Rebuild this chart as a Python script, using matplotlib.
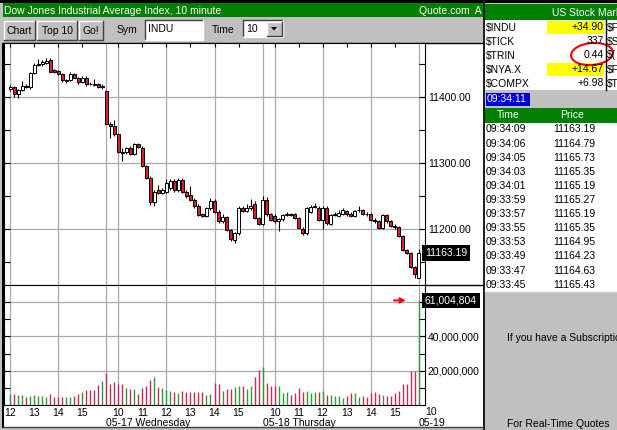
import numpy as np
import pandas as pd
import matplotlib
matplotlib.use("Agg")
import matplotlib.pyplot as plt
from matplotlib.patches import Rectangle, Ellipse, Polygon
from matplotlib.transforms import blended_transform_factory
from matplotlib.ticker import FormatStrFormatter

plt.rcParams["font.family"] = ["Liberation Sans", "DejaVu Sans"]
plt.rcParams["font.size"] = 7.5

# ── 1. DATA: DJIA 10-minute bars, 05-16 12:00 .. 05-19 09:30 ──────────────────
session_starts = [("2006-05-16 12:00", 24), ("2006-05-17 09:30", 39),
                  ("2006-05-18 09:30", 39), ("2006-05-19 09:30", 1)]
day_names = ["05-17 Wednesday", "05-18 Thursday", "05-19"]

opens = [11412, 11414, 11404, 11410, 11417, 11414, 11436, 11448, 11449, 11451,
         11455, 11440, 11439, 11435, 11424, 11426, 11434, 11428, 11423, 11429,
         11420, 11419, 11419, 11415,
         11409, 11359, 11355, 11343, 11316, 11316, 11322, 11313, 11328, 11323,
         11295, 11277, 11241, 11258, 11254, 11256, 11262, 11273, 11258, 11274,
         11256, 11251, 11244, 11234, 11222, 11220, 11231, 11242, 11226, 11211,
         11218, 11198, 11183, 11193, 11232, 11227, 11231, 11238, 11216,
         11207, 11243, 11222, 11220, 11211, 11214, 11221, 11222, 11222, 11216,
         11200, 11193, 11226, 11233, 11231, 11213, 11231, 11207, 11221, 11219,
         11223, 11227, 11223, 11219, 11228, 11228, 11223, 11222, 11213, 11211,
         11201, 11221, 11211, 11204, 11202, 11189, 11168, 11163, 11142,
         11126]
highs = [11418, 11417, 11412, 11424, 11419, 11437, 11451, 11457, 11456, 11458,
         11458, 11442, 11441, 11436, 11427, 11438, 11436, 11430, 11431, 11431,
         11423, 11427, 11421, 11419,
         11410, 11362, 11364, 11345, 11323, 11324, 11325, 11330, 11330, 11325,
         11297, 11280, 11258, 11266, 11262, 11276, 11276, 11276, 11277, 11277,
         11258, 11265, 11246, 11237, 11224, 11233, 11247, 11245, 11228, 11222,
         11220, 11200, 11195, 11234, 11234, 11238, 11245, 11242, 11218,
         11249, 11248, 11224, 11222, 11216, 11223, 11226, 11224, 11224, 11218,
         11202, 11233, 11236, 11239, 11235, 11234, 11234, 11223, 11226, 11228,
         11231, 11229, 11225, 11229, 11234, 11230, 11225, 11224, 11216, 11213,
         11223, 11223, 11213, 11207, 11204, 11191, 11170, 11165, 11144,
         11169]
lows = [11408, 11400, 11398, 11408, 11413, 11412, 11434, 11446, 11447, 11449,
        11437, 11436, 11433, 11423, 11421, 11424, 11428, 11420, 11421, 11417,
        11418, 11416, 11413, 11412,
        11358, 11337, 11341, 11314, 11303, 11313, 11311, 11311, 11322, 11293,
        11275, 11236, 11235, 11253, 11252, 11254, 11258, 11256, 11256, 11254,
        11247, 11242, 11232, 11219, 11218, 11217, 11229, 11224, 11209, 11208,
        11196, 11182, 11179, 11191, 11225, 11225, 11229, 11214, 11205,
        11205, 11220, 11211, 11209, 11196, 11212, 11219, 11219, 11214, 11199,
        11191, 11191, 11224, 11231, 11211, 11200, 11206, 11205, 11219, 11217,
        11221, 11220, 11217, 11217, 11226, 11221, 11220, 11211, 11209, 11199,
        11199, 11209, 11202, 11200, 11187, 11166, 11161, 11140, 11126,
        11125]
closes = [11415, 11404, 11410, 11416, 11414, 11436, 11448, 11450, 11452, 11454,
          11438, 11437, 11435, 11425, 11426, 11434, 11429, 11422, 11429, 11419,
          11419, 11418, 11415, 11417,
          11359, 11355, 11343, 11316, 11315, 11322, 11313, 11328, 11324, 11295,
          11277, 11241, 11256, 11254, 11258, 11270, 11273, 11258, 11274, 11256,
          11249, 11244, 11234, 11221, 11220, 11231, 11242, 11226, 11211, 11218,
          11198, 11184, 11193, 11232, 11227, 11231, 11234, 11216, 11207,
          11243, 11222, 11213, 11211, 11214, 11221, 11222, 11221, 11216, 11201,
          11193, 11231, 11233, 11234, 11213, 11231, 11208, 11221, 11222, 11224,
          11228, 11222, 11219, 11227, 11229, 11223, 11222, 11213, 11211, 11201,
          11221, 11211, 11204, 11202, 11189, 11168, 11163, 11142, 11131,
          11163.19]
# volume in millions of shares
volumes = [6.5, 6.5, 6.1, 6.1, 4.5, 5.3, 5.9, 5.5, 5.3, 4.9,
           6.5, 4.9, 4.5, 4.9, 4.9, 4.9, 5.5, 6.3, 7.5, 8.8,
           8.8, 8.8, 11.8, 14.1,
           18.6, 12.2, 13.7, 12.2, 12.2, 9.8, 9.6, 9.2, 6.3, 9.8,
           11.2, 14.7, 16.3, 10.4, 9.8, 8.8, 8.2, 7.3, 6.9, 8.4,
           7.6, 7.3, 7.3, 7.3, 7.8, 5.9, 6.5, 13.1, 12.2, 8.4,
           9.2, 9.2, 10.4, 10.8, 10.8, 9.2, 11.2, 16.3, 20.2,
           22.0, 13.1, 11.2, 11.2, 11.2, 6.9, 7.3, 5.9, 6.9, 9.8,
           7.8, 8.4, 6.9, 7.3, 7.6, 8.2, 5.9, 5.9, 5.5, 5.3,
           3.9, 5.3, 6.9, 6.9, 4.9, 5.3, 4.9, 6.9, 7.3, 6.5,
           5.9, 5.3, 5.3, 6.9, 8.2, 12.4, 12.4, 19.6, 19.6,
           61.004804]

# quote panel
market_syms = ["$INDU", "$TICK", "$TRIN", "$NYA.X", "$COMPX"]
market_vals = ["+34.90", "337", "0.44", "+14.67", "+6.98"]
market_next = ["$F", "$S", "$(", "$F", "$T"]
market_hilite = [True, False, False, True, False]
clock = "09:34:11"
tick_times = ["09:34:09", "09:34:06", "09:34:05", "09:34:03", "09:34:01", "09:33:59",
              "09:33:57", "09:33:55", "09:33:53", "09:33:49", "09:33:47", "09:33:45"]
tick_prices = ["11163.19", "11164.79", "11165.73", "11165.35", "11165.19", "11165.27",
               "11165.19", "11165.35", "11164.95", "11164.23", "11164.63", "11165.43"]

price_levels = [11200, 11300, 11400]
price_minor = [11150, 11250, 11350, 11450]
vol_levels = [20, 40, 60]
vol_minor = [10, 30, 50]

# ── 2. BAR TIMES ──────────────────────────────────────────────────────────────
bars = pd.DatetimeIndex(np.concatenate(
    [pd.date_range(s, periods=n, freq="10min").values for s, n in session_starts]))
idx = np.arange(len(bars))
on_hour = bars.minute == 0
hour_ticks = idx[on_hour]
hour_labels = [str(h) for h in bars.hour[on_hour]]
day_open = idx[(bars.hour == 9) & (bars.minute == 30)]
grid_idx = np.sort(np.concatenate([day_open, idx[on_hour & bars.hour.isin([10, 12, 14])]]))

o, h, l, c = map(np.array, (opens, highs, lows, closes))
up = c >= o
vol = np.array(volumes)

# ── 3. FIGURE / WINDOW CHROME ────────────────────────────────────────────────
W, H = 617, 430
GRAY, GREEN, GRID = "#c0c0c0", "#007f00", "#a8a8a8"
fig = plt.figure(figsize=(W / 100, H / 100), dpi=100, facecolor=GRAY)
bg = fig.add_axes([0, 0, 1, 1])
bg.set_xlim(0, W)
bg.set_ylim(H, 0)
bg.axis("off")


def px_axes(x0, y0, x1, y1):
    return fig.add_axes([x0 / W, 1 - y1 / H, (x1 - x0) / W, (y1 - y0) / H])


def rect(x, y, w, hh, **kw):
    bg.add_patch(Rectangle((x, y), w, hh, **kw))


def bevel(x, y, w, hh, raised=True):
    lt, rb = ("white", "#404040") if raised else ("#404040", "white")
    bg.plot([x, x, x + w], [y + hh, y, y], color=lt, lw=1)
    bg.plot([x, x + w, x + w], [y + hh, y + hh, y], color=rb, lw=1)


rect(0, 0, W, 3, fc="black")
rect(3, 3, 480, 14, fc=GREEN)
bg.text(4, 10.5, "Dow Jones Industrial Average Index, 10 minute", color="white", va="center")
bg.text(482, 10.5, "Quote.com  A", color="white", va="center", ha="right")

# toolbar
for x, w, lab in [(4, 31, "Chart"), (37, 40, "Top 10"), (79, 24, "Go!")]:
    rect(x, 21, w, 19, fc=GRAY)
    bevel(x, 21, w, 19)
    bg.text(x + w / 2, 31, lab, ha="center", va="center")
bg.text(117, 30, "Sym", va="center")
rect(145, 20, 58, 20, fc="white")
bevel(145, 20, 58, 20, raised=False)
bg.text(148, 28.5, "INDU", va="center")
bg.text(212, 30, "Time", va="center")
rect(243, 20, 40, 17, fc="white")
bevel(243, 20, 40, 17, raised=False)
bg.text(246, 28.5, "10", va="center")
rect(267, 21.5, 14.5, 14, fc=GRAY)
bevel(267, 21.5, 14.5, 14)
bg.add_patch(Polygon([[271, 27], [277, 27], [274, 30.5]], closed=True, fc="black"))

# chart canvas
rect(3, 43, 480, 384, fc="white")
rect(2, 43, 2, 385, fc="black")
bg.plot([3, 483], [43, 43], color="black", lw=1)
bg.plot([3, 483], [285, 285], color="black", lw=1)
bg.plot([3, 483], [427, 427], color="#404040", lw=1)

# right quote panel
rect(483, 0, 2, H, fc="#202020")
rect(485, 4, 132, 16, fc=GREEN)
bg.text(552, 12.5, "US Stock Market", color="white", va="center")
rect(485, 20, 132, 70, fc="white")
for k, (sym, val, nxt, hl) in enumerate(zip(market_syms, market_vals, market_next, market_hilite)):
    yy = 27.5 + 14 * k
    if hl:
        rect(547, yy - 6.5, 57, 13, fc="#ffff00")
    bg.text(486, yy, sym, va="center")
    bg.text(604, yy, val, va="center", ha="right")
    bg.text(607, yy, nxt, va="center")
bg.plot([605.5, 605.5], [20, 90], color="black", lw=1)
bg.add_patch(Ellipse((592, 54), 42, 22, angle=-5, fill=False, ec="red", lw=1.5))

rect(486, 93, 44, 13, fc="#0000d8")
bg.text(487, 99.5, clock, color="white", va="center")
rect(485, 108, 132, 15, fc=GREEN)
bg.text(508, 115.5, "Time", color="white", va="center", ha="center")
bg.text(572, 115.5, "Price", color="white", va="center", ha="center")
rect(485, 123, 132, 168, fc="white")
for k, (t, p) in enumerate(zip(tick_times, tick_prices)):
    yy = 129.5 + 14.1 * k
    bg.text(486, yy, t, va="center")
    bg.text(553, yy, p, va="center")
bg.plot([485, W], [291, 291], color="#f0f0f0", lw=1)
bg.text(507, 338, "If you have a Subscription", va="center")
bg.text(507, 424, "For Real-Time Quotes", va="center")

# ── 4. PRICE PANE ─────────────────────────────────────────────────────────────
xlim = (-1.6, 103.6)
ax = px_axes(4, 43, 425, 285)
ax.set_xlim(*xlim)
ax.set_ylim(11114.7, 11481.4)
for g in grid_idx:
    ax.axvline(g, color=GRID, lw=0.9, zorder=0.5)
ax.set_yticks(price_levels)
ax.set_yticks(price_minor, minor=True)
ax.yaxis.grid(True, which="major", color=GRID, lw=0.9)
ax.set_axisbelow(True)
ax.yaxis.set_major_formatter(FormatStrFormatter("%.2f"))
ax.tick_params(axis="y", which="both", left=True, right=True, labelleft=False,
               labelright=True, direction="in", length=4, pad=2, width=0.8)
ax.set_xticks(hour_ticks)
ax.tick_params(axis="x", bottom=False, top=True, labelbottom=False,
               direction="in", length=3, width=0.8)
for s in ax.spines.values():
    s.set_linewidth(0.8)

ax.vlines(idx, l, h, color="black", lw=0.8, zorder=2)
body_lo = np.minimum(o, c)
body_h = np.maximum(np.abs(c - o), 0.6)
ax.bar(idx, body_h, bottom=body_lo, width=0.8,
       color=np.where(up, "white", "#e01c24"), edgecolor="black", linewidth=0.7, zorder=3)

ax.text(1.0, c[-1], f"{c[-1]:.2f}", transform=blended_transform_factory(ax.transAxes, ax.transData),
        ha="left", va="center", color="white", clip_on=False, zorder=10,
        bbox=dict(boxstyle="square,pad=0.25", fc="black", ec="none"))

# ── 5. VOLUME PANE ───────────────────────────────────────────────────────────
axv = px_axes(4, 285, 425, 405)
axv.set_xlim(*xlim)
axv.set_ylim(0, 70)
for g in grid_idx:
    axv.axvline(g, color=GRID, lw=0.9, zorder=0.5)
# top level is hidden behind the last-volume tag, so it stays unlabeled
vol_labels = [f"{int(v * 1e6):,}" if v < vol[-1] - 5 else "" for v in vol_levels]
axv.set_yticks(vol_levels, labels=vol_labels)
axv.set_yticks(vol_minor, minor=True)
axv.yaxis.grid(True, which="major", color=GRID, lw=0.9)
axv.set_axisbelow(True)
axv.tick_params(axis="y", which="both", left=True, right=True, labelleft=False,
                labelright=True, direction="in", length=4, pad=2, width=0.8)
axv.set_xticks(hour_ticks, labels=hour_labels)
axv.tick_params(axis="x", length=0, pad=2)
for s in axv.spines.values():
    s.set_linewidth(0.8)

axv.vlines(idx, 0, vol, colors=np.where(up, "#2f9a2f", "#c02c58"), lw=1.0, zorder=3)

vt = blended_transform_factory(axv.transAxes, axv.transData)
axv.text(1.0, vol[-1], f"{int(round(vol[-1] * 1e6)):,}", transform=vt, ha="left", va="center",
         color="white", clip_on=False, zorder=10,
         bbox=dict(boxstyle="square,pad=0.25", fc="black", ec="none"))
axv.annotate("", xy=(idx[-1] - 2.5, vol[-1]), xytext=(idx[-1] - 6.8, vol[-1]),
             arrowprops=dict(arrowstyle="->", color="red", lw=1.5))

dt = blended_transform_factory(axv.transData, axv.transAxes)
axv.text(day_open[-1] + 3, -0.055, "10", transform=dt, ha="center", va="center", clip_on=False)
for pos, name in zip(day_open, day_names):
    axv.text(pos, -0.15, name, transform=dt, ha="left", va="center", clip_on=False)

fig.savefig("out.png", dpi=100, facecolor=fig.get_facecolor())
